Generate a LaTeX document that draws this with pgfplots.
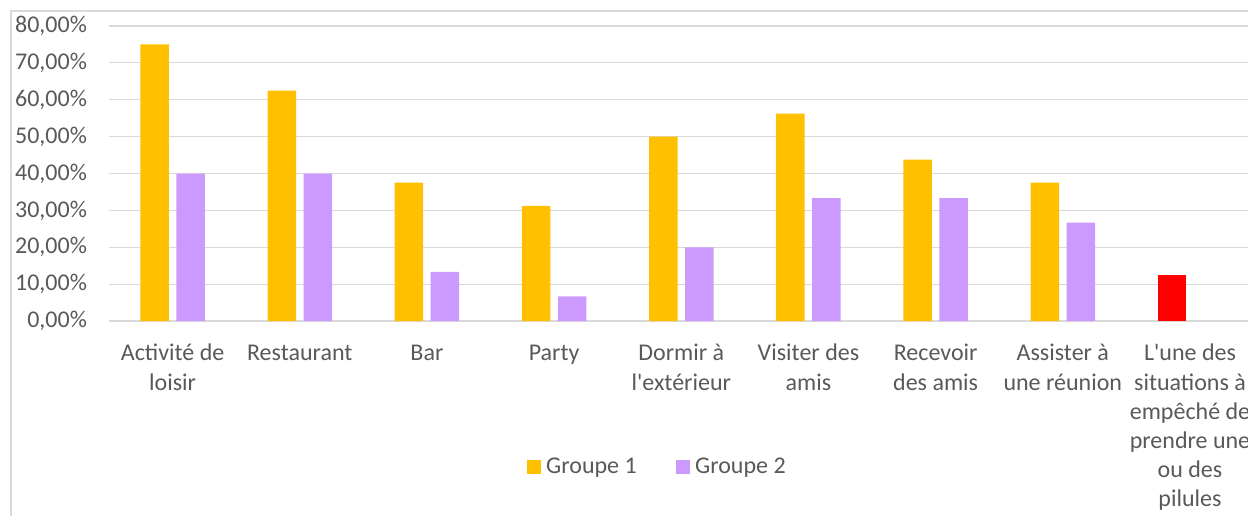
\documentclass[border=0pt]{standalone}
\usepackage{fontspec}
\setmainfont{Carlito}
\usepackage{pgfplots}
\pgfplotsset{compat=1.18}
\definecolor{gOne}{HTML}{FFC000}
\definecolor{gTwo}{HTML}{CC99FF}
\definecolor{gRed}{HTML}{FF0000}
\definecolor{gridgray}{HTML}{D9D9D9}
\definecolor{txt}{HTML}{595959}
\begin{document}
\begin{tikzpicture}
% 1 px = 0.5pt, origin = top left corner of the picture
\useasboundingbox (0,0) rectangle (624pt,-258pt);
\draw[gridgray, line width=0.6pt] (5.5pt,-258pt) -- (5.5pt,-5.5pt) -- (624pt,-5.5pt);
\begin{axis}[
    at={(54.5pt,-160.5pt)}, anchor=south west,
    scale only axis,
    width=572.3pt, height=147.5pt,
    xmin=-0.5, xmax=8.5,
    ymin=0, ymax=80,
    ytick={0,10,...,80},
    xtick={0,...,8},
    xticklabels={
      {\strut Activité de\\loisir},
      {\strut Restaurant},
      {\strut Bar},
      {\strut Party},
      {\strut Dormir à\\l\textquotesingle extérieur},
      {\strut Visiter des\\amis},
      {\strut Recevoir\\des amis},
      {\strut Assister à\\une réunion},
      {\strut L\textquotesingle une des\\situations à\\empêché de\\prendre une\\ou des\\pilules}},
    yticklabel={\pgfmathprintnumber[fixed,fixed zerofill,precision=2,use comma]{\tick}\%},
    /pgf/number format/assume math mode=true,
    ymajorgrids,
    grid style={gridgray, line width=0.6pt},
    axis line style={draw=none},
    major tick length=0pt,
    tick label style={font=\fontsize{12}{14.5}\selectfont, text=txt},
    yticklabel style={xshift=-7.5pt},
    xticklabel style={align=center, yshift=-6.2pt, font=\fontsize{12}{14.6}\selectfont},
    legend style={at={(0.4805,-0.4949)}, anchor=center, draw=none,
      legend columns=2, font=\fontsize{12}{14.5}\selectfont, text=txt,
      nodes={inner xsep=2.6pt},
      /tikz/every even column/.append style={column sep=17pt}},
  ]
  \addplot[ybar, bar width=14.25pt, bar shift=-9pt, fill=gOne, draw=none,
    legend image code/.code={\fill[gOne] (0pt,-3.4pt) rectangle (7pt,3.4pt);}]
    coordinates {(0,75) (1,62.5) (2,37.5) (3,31.25) (4,50) (5,56.25) (6,43.75) (7,37.5)};
  \addlegendentry{Groupe 1}
  \addplot[ybar, bar width=14.25pt, bar shift=9pt, fill=gTwo, draw=none,
    legend image code/.code={\fill[gTwo] (0pt,-3.4pt) rectangle (7pt,3.4pt);}]
    coordinates {(0,40) (1,40) (2,13.33) (3,6.67) (4,20) (5,33.33) (6,33.33) (7,26.67)};
  \addlegendentry{Groupe 2}
  \addplot[ybar, bar width=14.25pt, bar shift=-9pt, fill=gRed, draw=none, forget plot]
    coordinates {(8,12.5)};
\end{axis}
\end{tikzpicture}
\end{document}
